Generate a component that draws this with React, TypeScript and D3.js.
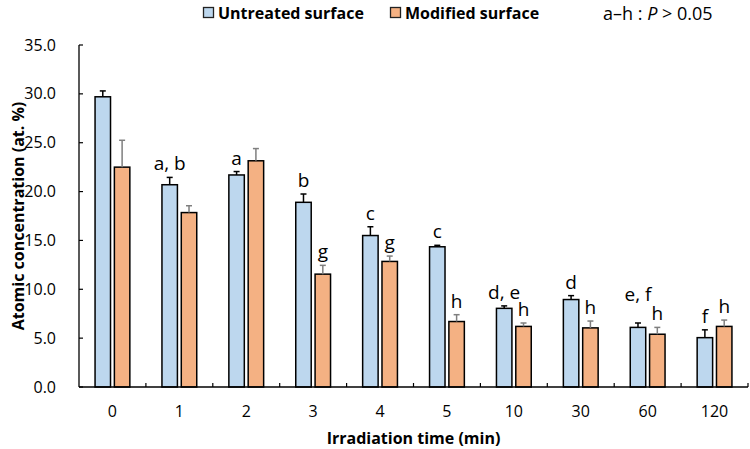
import React from "react";
import * as d3 from "d3";

const categories = ["0", "1", "2", "3", "4", "5", "10", "30", "60", "120"];
const untreated = [29.7, 20.7, 21.7, 18.9, 15.5, 14.35, 8.05, 8.95, 6.1, 5.05];
const untreatedErr = [0.6, 0.75, 0.35, 0.85, 0.9, 0.15, 0.25, 0.4, 0.45, 0.8];
const modified = [22.5, 17.85, 23.15, 11.55, 12.85, 6.7, 6.2, 6.05, 5.4, 6.2];
const modifiedErr = [2.75, 0.7, 1.25, 0.9, 0.55, 0.7, 0.35, 0.7, 0.7, 0.65];
const untreatedLabels = ["", "a, b", "a", "b", "c", "c", "d, e", "d", "e, f", "f"];
const modifiedLabels = ["", "", "", "g", "g", "h", "h", "h", "h", "h"];
const yTicks = [0, 5, 10, 15, 20, 25, 30, 35];
const seriesNames = ["Untreated surface", "Modified surface"];

const W = 750;
const H = 449;
const margin = { left: 79, right: 2, top: 45, bottom: 62 };
const FONT = "'Open Sans', 'DejaVu Sans', sans-serif";
const BLUE = "#BDD7EE";
const ORANGE = "#F4B183";

export default function App() {
  const x0 = d3
    .scaleBand<string>()
    .domain(categories)
    .range([margin.left, W - margin.right])
    .padding(0);
  const bw = x0.bandwidth();
  const x1 = d3
    .scaleBand<number>()
    .domain([0, 1])
    .range([bw * 0.24, bw * 0.76])
    .paddingInner(0.2);
  const y = d3.scaleLinear().domain([0, 35]).range([H - margin.bottom, margin.top]);
  const y0 = y(0);

  const series = [
    { vals: untreated, errs: untreatedErr, labels: untreatedLabels, fill: BLUE, errColor: "#000" },
    { vals: modified, errs: modifiedErr, labels: modifiedLabels, fill: ORANGE, errColor: "#7f7f7f" },
  ];

  // extra label lift for crowded groups (layout only)
  const lift = (si: number, i: number) => (si === 0 && categories[i] === "60" ? 15 : 0);

  const bandEdges = categories.map((c) => (x0(c) as number) + bw);

  return (
    <svg
      width={W}
      height={H}
      style={{ position: "absolute", left: 0, top: 0, background: "#fff" }}
      fontFamily={FONT}
    >
      {/* Legend */}
      <g>
        <rect x={203.5} y={7.5} width={10} height={10} fill={BLUE} stroke="#222" strokeWidth={1.3} />
        <text x={218} y={18.5} fontSize={16} fontWeight="bold" fill="#000">
          {seriesNames[0]}
        </text>
        <rect x={390.5} y={7.5} width={10} height={10} fill={ORANGE} stroke="#222" strokeWidth={1.3} />
        <text x={405} y={18.5} fontSize={16} fontWeight="bold" fill="#000">
          {seriesNames[1]}
        </text>
        <text x={603} y={20} fontSize={18} fill="#000">
          a–h : <tspan fontStyle="italic">P</tspan> &gt; 0.05
        </text>
      </g>

      {/* Y axis */}
      <line x1={margin.left} x2={margin.left} y1={y(35)} y2={y0} stroke="#000" strokeWidth={1.3} />
      {yTicks.map((t) => (
        <g key={t}>
          <line x1={margin.left} x2={margin.left + 4} y1={y(t)} y2={y(t)} stroke="#000" strokeWidth={1.2} />
          <text x={56} y={y(t)} dy="0.35em" textAnchor="end" fontSize={16} fill="#000">
            {t.toFixed(1)}
          </text>
        </g>
      ))}
      <text
        transform={`translate(24,${(y(35) + y0) / 2}) rotate(-90)`}
        textAnchor="middle"
        fontSize={16}
        fontWeight="bold"
        fill="#000"
      >
        Atomic concentration (at. %)
      </text>

      {/* Bars */}
      {series.map((s, si) =>
        categories.map((c, i) => {
          const bx = (x0(c) as number) + (x1(si) as number);
          const w = x1.bandwidth();
          const top = y(s.vals[i]);
          const et = y(s.vals[i] + s.errs[i]);
          const cx = bx + w / 2;
          return (
            <g key={`${si}-${i}`}>
              <rect x={bx} y={top} width={w} height={y0 - top} fill={s.fill} stroke="#000" strokeWidth={1.5} />
              <line x1={cx} x2={cx} y1={top} y2={et} stroke={s.errColor} strokeWidth={1.5} />
              <line x1={cx - 3} x2={cx + 3} y1={et} y2={et} stroke={s.errColor} strokeWidth={1.5} />
              {s.labels[i] && (
                <text x={cx} y={et - 7 - lift(si, i)} textAnchor="middle" fontSize={19} fill="#000">
                  {s.labels[i]}
                </text>
              )}
            </g>
          );
        })
      )}

      {/* X axis */}
      <line x1={margin.left} x2={W - margin.right} y1={y0} y2={y0} stroke="#000" strokeWidth={1.3} />
      {bandEdges.map((e, i) => (
        <line key={i} x1={e} x2={e} y1={y0} y2={y0 - 4} stroke="#000" strokeWidth={1.2} />
      ))}
      {categories.map((c) => (
        <text key={c} x={(x0(c) as number) + bw / 2} y={417} textAnchor="middle" fontSize={16} fill="#000">
          {c}
        </text>
      ))}
      <text x={(margin.left + W - margin.right) / 2} y={444} textAnchor="middle" fontSize={16} fontWeight="bold" fill="#000">
        Irradiation time (min)
      </text>
    </svg>
  );
}
